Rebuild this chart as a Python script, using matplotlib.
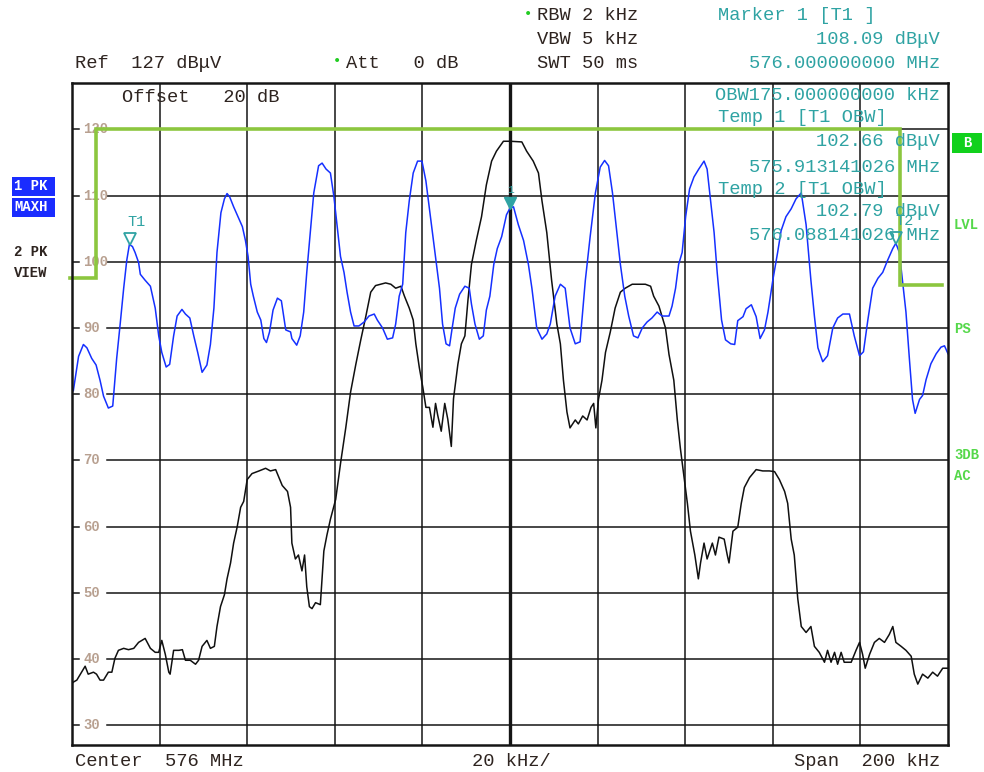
import matplotlib
matplotlib.use('Agg')
import matplotlib.pyplot as plt
from matplotlib import transforms
from matplotlib.patches import Rectangle

# ---------------- data (frequency offset from 576 MHz in kHz, level in dBuV) ----------------
trace1_khz = [-100, -99.7, -98.5, -97.4, -96.6, -95.5, -94.5, -93.6, -92.8, -91.7, -90.7, -90.2,
              -89.8, -89.0, -88.2, -87.5, -86.9, -86.2, -85.6, -84.8, -84.4, -83.3, -82.1, -81.0,
              -80.2, -79.5, -78.5, -77.7, -76.8, -76.0, -74.9, -74.1, -73.1, -72.2, -71.3, -70.3,
              -69.2, -68.4, -67.6, -66.9, -66.0, -65.2, -64.6, -64.0, -63.1, -61.9, -61.1, -60.4,
              -59.8, -59.2, -58.6, -57.7, -56.9, -56.2, -55.6, -54.9, -54.1, -53.1, -52.2, -51.2,
              -50.1, -49.8, -48.7, -47.9, -47.1, -46.4, -45.6, -44.8, -43.7, -42.9, -42.0, -41.0,
              -40.2, -39.5, -38.7, -37.9, -37.2, -36.4, -35.6, -34.5, -33.3, -32.2, -31.0, -30.3,
              -29.1, -28.0, -26.8, -26.1, -25.3, -24.5, -23.8, -23.0, -22.1, -21.1, -20.1, -19.2,
              -18.4, -17.5, -16.9, -16.1, -15.4, -14.6, -13.8, -13.2, -12.5, -11.5, -10.3, -9.3,
              -8.8, -8.0, -7.0, -6.1, -5.4, -4.6, -3.7, -2.9, -1.9, -0.8, 0.0, 0.8, 1.9, 3.1, 4.2,
              5.0, 6.1, 7.3, 8.4, 9.2, 10.3, 11.5, 12.6, 13.7, 14.9, 16.0, 17.2, 18.3, 19.5, 20.6,
              21.6, 22.5, 23.4, 24.4, 25.2, 26.2, 27.1, 28.2, 29.2, 30.2, 31.3, 32.4, 33.6, 34.7,
              36.3, 37.0, 37.8, 38.5, 39.3, 40.1, 41.0, 42.0, 43.1, 44.3, 45.0, 45.8, 46.6, 47.3,
              48.3, 49.2, 50.4, 51.3, 52.0, 53.2, 53.9, 55.1, 56.2, 57.1, 58.1, 58.9, 60.0, 61.1,
              61.9, 63.0, 64.2, 65.3, 66.5, 67.6, 68.7, 69.5, 70.3, 71.4, 72.5, 73.7, 74.8, 76.0,
              77.5, 78.6, 79.8, 80.7, 81.7, 82.8, 84.0, 85.1, 86.2, 87.4, 88.1, 88.9, 89.6, 90.4,
              91.2, 91.9, 92.5, 93.5, 94.2, 95.0, 96.1, 97.3, 98.4, 99.2, 100]
trace1_db = [80.8, 80.5, 85.7, 87.5, 87.0, 85.4, 84.4, 82.1, 79.7, 77.9, 78.2, 82.1,
             85.4, 90.6, 96.0, 100.2, 102.6, 102.3, 101.4, 99.9, 98.1, 97.2, 96.3, 93.0,
             88.8, 86.3, 84.1, 84.5, 88.8, 91.8, 92.8, 92.1, 91.5, 88.8, 86.3, 83.3,
             84.4, 87.5, 93.0, 101.4, 107.4, 109.5, 110.3, 109.8, 108.3, 106.5, 105.3, 103.2,
             100.8, 96.6, 94.8, 92.4, 91.2, 88.4, 87.8, 89.4, 92.7, 94.5, 94.1, 89.7,
             89.4, 88.4, 87.4, 88.8, 92.4, 98.4, 104.4, 110.4, 114.5, 114.9, 114.0, 113.4,
             109.8, 105.6, 100.8, 98.4, 95.4, 92.4, 90.3, 90.3, 90.9, 91.8, 92.1, 91.2,
             90.0, 88.3, 88.5, 90.6, 94.8, 96.6, 104.4, 109.2, 113.4, 115.2, 115.2, 112.2,
             108.0, 103.2, 100.2, 96.0, 90.6, 87.6, 87.3, 90.0, 93.0, 95.1, 96.3, 96.0,
             93.6, 90.6, 88.3, 88.8, 92.7, 94.8, 99.6, 102.0, 103.8, 107.1, 108.1, 108.3, 105.6,
             103.2, 99.6, 96.0, 90.0, 88.3, 89.1, 90.6, 94.8, 96.6, 96.0, 90.0, 87.6, 87.9, 97.2,
             103.8, 110.4, 114.3, 115.3, 114.5, 110.4, 104.4, 99.6, 94.8, 91.8, 88.8, 88.5, 90.0,
             90.9, 91.5, 92.4, 91.8, 91.8, 93.3, 96.0, 99.6, 101.4, 106.8, 111.0, 112.8, 114.0,
             115.2, 114.0, 109.2, 104.4, 98.4, 91.2, 88.2, 87.6, 87.5, 91.1, 91.7, 92.9, 93.5,
             91.7, 88.4, 89.7, 92.4, 97.2, 101.4, 104.7, 106.8, 108.0, 109.5, 110.4, 105.6, 97.2,
             91.8, 87.0, 84.9, 85.8, 90.0, 91.5, 92.1, 92.1, 88.8, 85.8, 86.4, 91.2, 96.0, 97.5,
             98.4, 100.2, 102.0, 102.8, 101.4, 97.2, 92.4, 85.2, 79.2, 77.1, 79.2, 79.8, 82.2,
             84.6, 86.1, 87.1, 87.3, 86.1]

trace2_khz = [-100, -99.7, -98.9, -97.8, -97.0, -96.3, -95.1, -94.4, -93.6, -92.8, -91.7, -90.9,
              -90.2, -89.4, -88.2, -87.1, -85.9, -84.8, -83.3, -82.1, -81.0, -80.2, -79.5, -78.7,
              -77.9, -77.6, -76.8, -75.6, -74.8, -74.1, -73.0, -71.8, -71.1, -70.3, -69.2, -68.4,
              -67.5, -66.9, -66.1, -65.2, -64.6, -63.8, -63.1, -62.3, -61.5, -60.8, -60.0, -58.9,
              -57.3, -55.8, -54.7, -53.5, -52.0, -50.8, -50.1, -49.8, -49.0, -48.3, -47.5, -46.9,
              -46.4, -45.8, -45.2, -44.4, -43.3, -42.5, -41.8, -41.0, -39.8, -38.7, -37.5, -36.4,
              -35.2, -34.1, -32.9, -31.8, -30.7, -29.5, -28.4, -27.2, -26.1, -24.9, -24.1, -23.0,
              -22.1, -21.5, -20.7, -19.9, -19.2, -18.4, -17.6, -17.0, -16.5, -15.7, -14.9, -14.2,
              -13.4, -12.9, -11.9, -11.1, -10.3, -9.6, -8.8, -7.7, -6.5, -5.4, -4.2, -3.1, -1.5,
              0.0, 2.7, 3.8, 5.3, 6.5, 7.3, 8.4, 9.5, 10.7, 11.5, 12.2, 13.0, 13.7, 14.9, 15.6,
              16.6, 17.6, 18.5, 19.1, 19.6, 20.2, 21.0, 21.8, 22.9, 24.0, 25.2, 26.3, 27.9, 29.4,
              30.9, 32.1, 32.8, 34.0, 35.5, 36.3, 37.4, 38.2, 38.9, 39.7, 40.5, 41.2, 42.2, 43.0,
              43.5, 44.3, 45.0, 46.2, 46.9, 47.7, 48.9, 49.6, 50.0, 50.9, 52.0, 52.8, 53.5, 54.7,
              56.2, 57.7, 59.2, 60.4, 61.5, 62.7, 63.4, 64.2, 64.9, 65.7, 66.5, 67.6, 68.7, 69.5,
              70.6, 71.8, 72.5, 73.3, 74.1, 74.8, 75.6, 76.3, 77.9, 79.0, 79.8, 80.5, 81.1, 82.1,
              83.2, 84.3, 85.5, 86.6, 87.4, 88.1, 89.3, 90.4, 91.6, 92.3, 93.1, 94.2, 95.4, 96.5,
              97.6, 98.8, 100]
trace2_db = [36.3, 36.5, 36.8, 38.0, 38.9, 37.7, 38.0, 37.7, 36.8, 36.8, 38.0, 38.0,
             40.1, 41.3, 41.6, 41.4, 41.6, 42.5, 43.1, 41.6, 41.0, 41.0, 42.8, 40.7,
             38.0, 37.7, 41.3, 41.3, 41.4, 39.8, 39.8, 39.2, 39.8, 41.9, 42.8, 41.6,
             41.9, 44.9, 47.9, 49.7, 52.1, 54.5, 57.5, 59.9, 62.9, 63.8, 67.1, 68.0,
             68.4, 68.8, 68.4, 68.6, 66.2, 65.3, 62.9, 57.5, 55.1, 55.7, 53.3, 55.7,
             50.9, 47.9, 47.6, 48.5, 48.2, 56.3, 58.7, 61.1, 64.1, 69.5, 74.9, 80.3,
             84.5, 88.1, 91.8, 95.4, 96.4, 96.6, 96.8, 96.6, 96.0, 96.3, 94.8, 93.0,
             91.2, 87.6, 84.0, 81.0, 78.0, 78.0, 75.0, 78.6, 76.8, 74.4, 78.6, 76.2,
             72.1, 79.3, 84.5, 87.6, 88.8, 94.2, 99.6, 103.2, 106.8, 111.6, 115.2, 116.7, 118.2,
             118.2, 118.1, 116.7, 115.2, 113.4, 109.2, 104.4, 97.2, 90.6, 87.6, 82.1, 77.3, 74.9,
             76.1, 75.5, 76.7, 76.1, 78.0, 78.6, 74.9, 79.2, 82.1, 86.3, 89.4, 93.0, 95.4, 96.0,
             96.6, 96.6, 96.6, 96.3, 94.8, 93.3, 90.0, 86.0, 82.1, 76.1, 71.8, 67.7, 63.5, 59.3,
             55.7, 52.1, 54.5, 57.5, 55.1, 57.5, 55.7, 58.4, 58.1, 55.7, 54.5, 59.3, 59.9, 63.5,
             65.9, 67.4, 68.6, 68.4, 68.4, 68.3, 67.1, 65.3, 63.5, 58.1, 55.7, 49.1, 44.9, 44.0,
             44.9, 41.9, 41.0, 39.5, 41.3, 39.5, 41.0, 39.2, 41.0, 39.5, 39.5, 41.3, 42.5, 40.7,
             38.6, 40.7, 42.5, 43.1, 42.5, 43.7, 44.9, 42.5, 41.9, 41.3, 40.4, 37.7, 36.2, 37.7,
             37.1, 38.0, 37.4, 38.6, 38.6]

limit_khz = [-100.4, -94.5, -94.5, 89.0, 89.0, 98.6]
limit_db = [97.6, 97.6, 120.0, 120.0, 96.5, 96.5]

y_tick_values = [30, 40, 50, 60, 70, 80, 90, 100, 110, 120]
x_grid_values = [-80, -60, -40, -20, 0, 20, 40, 60, 80]

marker1 = (0.0, 108.09)
temp1 = (-86.858974, 102.66)
temp2 = (88.141026, 102.79)

# ---------------- figure ----------------
W, H = 984, 772
fig = plt.figure(figsize=(W / 100, H / 100), dpi=100)
fig.patch.set_facecolor('white')


def fx(px):
    return px / W


def fy(py):
    return 1 - py / H


MONO = 'Liberation Mono'
DARK = '#2e2420'
TEAL = '#2fa3a3'
GREEN_TXT = '#55d84a'

ax = fig.add_axes([fx(72), fy(745), fx(948) - fx(72), fy(83) - fy(745)])
ax.set_xlim(-100, 100)
ax.set_ylim(27, 127)
ax.set_xticks([])
ax.set_yticks([])
for s in ax.spines.values():
    s.set_linewidth(1.8)
    s.set_color('#151515')
    s.set_zorder(10)

# grid
for xv in x_grid_values:
    ax.axvline(xv, color='#151515', lw=2.4 if xv == 0 else 1.1, zorder=1)
gap_start = (107 - 72) / 876
tick_end = (79 - 72) / 876
ytrans = transforms.blended_transform_factory(ax.transAxes, ax.transData)
for yv in y_tick_values:
    ax.axhline(yv, xmin=gap_start, xmax=1, color='#151515', lw=1.1, zorder=1)
    ax.axhline(yv, xmin=0, xmax=tick_end, color='#151515', lw=1.1, zorder=1)
    ax.text((83 - 72) / 876, yv, str(yv), transform=ytrans, fontsize=10, family=MONO,
            fontweight='bold', color='#b8a090', va='center', ha='left', zorder=2)

# traces
ax.plot(trace2_khz, trace2_db, color='#101010', lw=1.1, zorder=4)
ax.plot(trace1_khz, trace1_db, color='#1530ff', lw=1.1, zorder=5)

# limit line
ax.plot(limit_khz, limit_db, color='#8cc63f', lw=2.6, zorder=6, clip_on=False,
        solid_joinstyle='miter')

# markers
up = transforms.offset_copy(ax.transData, fig=fig, x=0, y=5, units='dots')
ax.plot([temp1[0]], [temp1[1]], marker='v', ms=8, mfc='none', mec=TEAL, mew=1.3,
        transform=up, zorder=7, clip_on=False)
ax.plot([temp2[0]], [temp2[1]], marker='v', ms=8, mfc='none', mec=TEAL, mew=1.3,
        transform=up, zorder=7, clip_on=False)
ax.plot([marker1[0]], [marker1[1]], marker='v', ms=8, mfc=TEAL, mec=TEAL, mew=1.0,
        transform=up, zorder=7, clip_on=False)
lab = transforms.offset_copy(ax.transData, fig=fig, x=0, y=22, units='dots')
ax.text(temp1[0] + 1.5, temp1[1], 'T1', transform=lab, family=MONO, fontsize=11,
        color=TEAL, ha='center', va='center', zorder=8)
ax.text(temp2[0] + 2.0, temp2[1], 'T2', transform=lab, family=MONO, fontsize=11,
        color=TEAL, ha='center', va='center', zorder=8)
lab1 = transforms.offset_copy(ax.transData, fig=fig, x=0, y=18, units='dots')
ax.text(marker1[0], marker1[1], '1', transform=lab1, family=MONO, fontsize=8,
        color=TEAL, ha='center', va='center', zorder=8)

# ---------------- texts ----------------
FS = 13.5


def t(px, py, s, color=DARK, ha='left', weight='normal', size=FS):
    fig.text(fx(px), fy(py), s, family=MONO, fontsize=size, color=color, ha=ha,
             va='center', fontweight=weight)


t(75, 63, 'Ref  127 dBμV')
t(346, 63, 'Att   0 dB')
t(537, 15, 'RBW 2 kHz')
t(537, 39, 'VBW 5 kHz')
t(537, 63, 'SWT 50 ms')
fig.text(fx(337), fy(61), '•', color='#22cc22', fontsize=10, ha='center', va='center')
fig.text(fx(528), fy(14), '•', color='#22cc22', fontsize=10, ha='center', va='center')

t(718, 15, 'Marker 1 [T1 ]', color=TEAL)
t(940, 39, '108.09 dBμV', color=TEAL, ha='right')
t(940, 63, '576.000000000 MHz', color=TEAL, ha='right')

t(122, 97, 'Offset   20 dB')
t(940, 96, 'OBW175.000000000 kHz', color=TEAL, ha='right')
t(718, 118, 'Temp 1 [T1 OBW]', color=TEAL)
t(940, 142, '102.66 dBμV', color=TEAL, ha='right')
t(940, 167, '575.913141026 MHz', color=TEAL, ha='right')
t(718, 190, 'Temp 2 [T1 OBW]', color=TEAL)
t(940, 212, '102.79 dBμV', color=TEAL, ha='right')
t(940, 236, '576.088141026 MHz', color=TEAL, ha='right')

t(75, 762, 'Center  576 MHz')
t(472, 762, '20 kHz/')
t(940, 762, 'Span  200 kHz', ha='right')

# left side trace info
for (y0, y1) in [(177, 196), (198, 217)]:
    fig.patches.append(Rectangle((fx(12), fy(y1)), fx(55) - fx(12), fy(y0) - fy(y1),
                                 transform=fig.transFigure, fc='#1a2cff', ec='none'))
t(14, 186, '1 PK', color='white', size=10, weight='bold')
t(14, 207, 'MAXH', color='white', size=10, weight='bold')
t(14, 252, '2 PK', size=10, weight='bold')
t(14, 273, 'VIEW', size=10, weight='bold')

# right side indicators
fig.patches.append(Rectangle((fx(952), fy(153)), fx(982) - fx(952), fy(133) - fy(153),
                             transform=fig.transFigure, fc='#11d11c', ec='none'))
t(967, 143, 'B', color='white', ha='center', size=10, weight='bold')
t(954, 225, 'LVL', color=GREEN_TXT, size=10, weight='bold')
t(954, 329, 'PS', color=GREEN_TXT, size=10, weight='bold')
t(954, 455, '3DB', color=GREEN_TXT, size=10, weight='bold')
t(954, 476, 'AC', color=GREEN_TXT, size=10, weight='bold')

fig.savefig('out.png', dpi=100, facecolor='white')
